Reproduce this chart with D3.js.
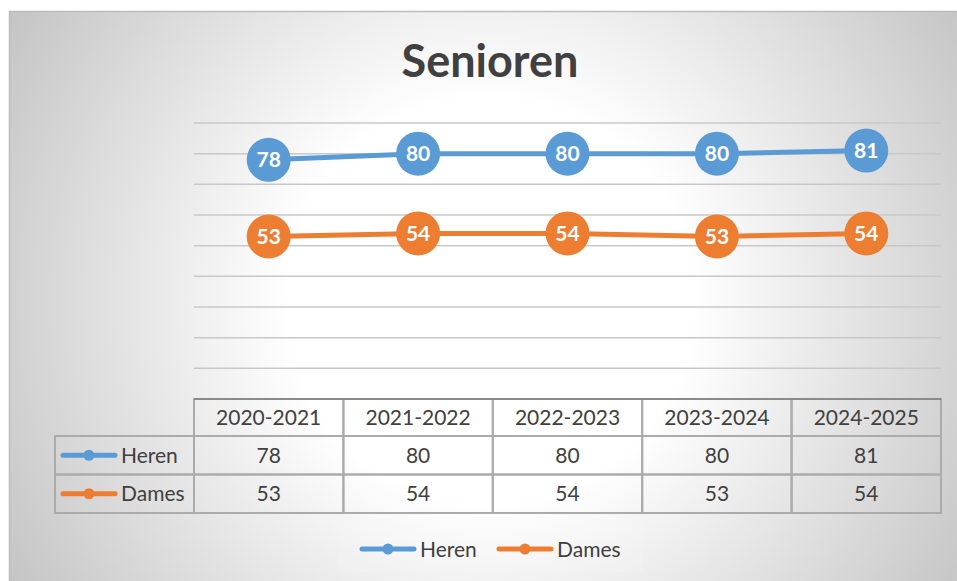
<!DOCTYPE html>
<meta charset="utf-8">
<style>
body { margin: 0; background: #fff; }
svg { display: block; }
text { font-family: Lato, "Open Sans", sans-serif; }
</style>
<svg width="957" height="581"></svg>
<script src="https://cdnjs.cloudflare.com/ajax/libs/d3/7.8.5/d3.min.js"></script>
<script>
// chart data
var seasons = ["2020-2021", "2021-2022", "2022-2023", "2023-2024", "2024-2025"];
var heren = [78, 80, 80, 80, 81];
var dames = [53, 54, 54, 53, 54];
var seriesNames = ["Heren", "Dames"];
var seriesColors = ["#5b9bd5", "#ed7d31"];
var yTicks = [0, 10, 20, 30, 40, 50, 60, 70, 80, 90];

var series = [heren, dames].map(function(vals, i) {
  return {name: seriesNames[i], color: seriesColors[i],
          values: vals.map(function(v, j) { return {cat: seasons[j], v: v}; })};
});

var svg = d3.select("svg");

// background: radial grey -> white, like the office style
var defs = svg.append("defs");
var grad = defs.append("radialGradient")
  .attr("id", "bg")
  .attr("gradientUnits", "userSpaceOnUse")
  .attr("cx", 490).attr("cy", 300).attr("r", 561);
grad.append("stop").attr("offset", 0.36).attr("stop-color", "#ffffff");
grad.append("stop").attr("offset", 1).attr("stop-color", "#c4c4c4");

svg.append("rect")
  .attr("x", 9.5).attr("y", 11.5)
  .attr("width", 980).attr("height", 600)
  .attr("fill", "url(#bg)")
  .attr("stroke", "#bcbcbc")
  .attr("stroke-width", 1.5);

// title
svg.append("text")
  .attr("x", 490).attr("y", 77)
  .attr("text-anchor", "middle")
  .attr("font-size", 45).attr("font-weight", "bold")
  .attr("fill", "#404040")
  .text("Senioren");

// scales
var x = d3.scaleBand().domain(seasons).range([194, 941]);
var y = d3.scaleLinear().domain([0, 90]).range([399, 123]);
var cx = function(c) { return x(c) + x.bandwidth() / 2; };

// gridlines
svg.append("g").selectAll("line").data(yTicks.slice(1))
  .enter().append("line")
  .attr("x1", 194).attr("x2", 941)
  .attr("y1", function(d) { return y(d); })
  .attr("y2", function(d) { return y(d); })
  .attr("stroke", "#c8c8c8")
  .attr("stroke-width", 1.5);

// lines + markers + labels
var line = d3.line()
  .x(function(d) { return cx(d.cat); })
  .y(function(d) { return y(d.v); });

var sg = svg.selectAll(".series").data(series)
  .enter().append("g").attr("class", "series");

sg.append("path")
  .attr("d", function(d) { return line(d.values); })
  .attr("fill", "none")
  .attr("stroke", function(d) { return d.color; })
  .attr("stroke-width", 5)
  .attr("stroke-linecap", "round");

sg.selectAll("circle").data(function(d) { return d.values.map(function(p) { return {p: p, color: d.color}; }); })
  .enter().append("circle")
  .attr("cx", function(d) { return cx(d.p.cat); })
  .attr("cy", function(d) { return y(d.p.v); })
  .attr("r", 22)
  .attr("fill", function(d) { return d.color; });

sg.selectAll("text.lbl").data(function(d) { return d.values; })
  .enter().append("text")
  .attr("class", "lbl")
  .attr("x", function(d) { return cx(d.cat); })
  .attr("y", function(d) { return y(d.v) + 7.5; })
  .attr("text-anchor", "middle")
  .attr("font-size", 21).attr("font-weight", "bold")
  .attr("fill", "#ffffff")
  .text(function(d) { return d.v; });

// data table
var tableTop = 399, headerH = 37, rowH = 38.5, labelLeft = 55;
var tableCol = "#ababab";
var tg = svg.append("g");

// cell borders
tg.selectAll("rect.hdr").data(seasons)
  .enter().append("rect")
  .attr("x", function(d) { return x(d); })
  .attr("y", tableTop)
  .attr("width", x.bandwidth()).attr("height", headerH + rowH * 2)
  .attr("fill", "none").attr("stroke", tableCol).attr("stroke-width", 2);
series.forEach(function(s, i) {
  var ry = tableTop + headerH + rowH * i;
  tg.append("rect")
    .attr("x", labelLeft).attr("y", ry)
    .attr("width", 941 - labelLeft).attr("height", rowH)
    .attr("fill", "none").attr("stroke", tableCol).attr("stroke-width", 2);
  // legend key in table
  var cy = ry + rowH / 2;
  tg.append("line")
    .attr("x1", 63).attr("x2", 115).attr("y1", cy).attr("y2", cy)
    .attr("stroke", s.color).attr("stroke-width", 5).attr("stroke-linecap", "round");
  tg.append("circle").attr("cx", 89).attr("cy", cy).attr("r", 5.5).attr("fill", s.color);
  tg.append("text")
    .attr("x", 121).attr("y", cy + 7.5)
    .attr("font-size", 21).attr("fill", "#404040")
    .text(s.name);
  tg.selectAll(null).data(s.values)
    .enter().append("text")
    .attr("x", function(d) { return cx(d.cat); })
    .attr("y", cy + 7.5)
    .attr("text-anchor", "middle")
    .attr("font-size", 21).attr("fill", "#404040")
    .text(function(d) { return d.v; });
});
// header labels
tg.selectAll("text.hd").data(seasons)
  .enter().append("text")
  .attr("class", "hd")
  .attr("x", function(d) { return cx(d); })
  .attr("y", tableTop + headerH / 2 + 7.5)
  .attr("text-anchor", "middle")
  .attr("font-size", 21).attr("fill", "#404040")
  .text(function(d) { return d; });
// axis line on top of table
tg.append("line")
  .attr("x1", 194).attr("x2", 941).attr("y1", tableTop).attr("y2", tableTop)
  .attr("stroke", "#8a8a8a").attr("stroke-width", 2);

// legend
svg.append("rect")
  .attr("x", 337).attr("y", 526).attr("width", 306).attr("height", 46)
  .attr("fill", "#ffffff").attr("fill-opacity", 0.12);
var legX = [360, 497];
var lg = svg.selectAll(".leg").data(series)
  .enter().append("g").attr("class", "leg")
  .attr("transform", function(d, i) { return "translate(" + legX[i] + ",549)"; });
lg.append("line")
  .attr("x1", 2).attr("x2", 54)
  .attr("stroke", function(d) { return d.color; })
  .attr("stroke-width", 5).attr("stroke-linecap", "round");
lg.append("circle").attr("cx", 28).attr("r", 5.5)
  .attr("fill", function(d) { return d.color; });
lg.append("text")
  .attr("x", 60).attr("y", 7.5)
  .attr("font-size", 21).attr("fill", "#404040")
  .text(function(d) { return d.name; });
</script>
